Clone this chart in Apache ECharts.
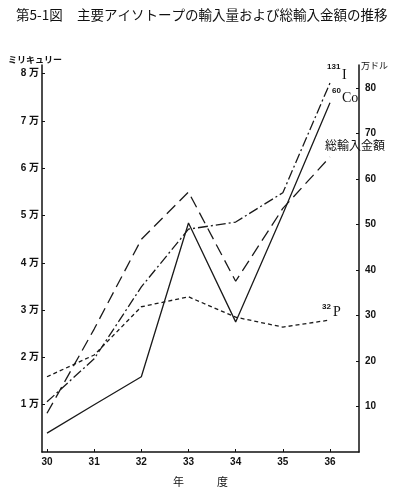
<!DOCTYPE html>
<html>
<head>
<meta charset="utf-8">
<script src="https://cdn.jsdelivr.net/npm/echarts@6/dist/echarts.min.js"></script>
<style>
  html, body { margin: 0; padding: 0; background: #fff; }
  #chart { width: 398px; height: 493px; }
</style>
</head>
<body>
<div id="chart"></div>
<script>
// 年度 (昭和)
const years = [30, 31, 32, 33, 34, 35, 36];
// 輸入量 (万ミリキュリー)
const iodine131 = [1.06, 1.97, 3.49, 4.71, 4.86, 5.48, 7.80];
const cobalt60 = [0.40, 1.00, 1.59, 4.84, 2.75, 5.03, 7.38];
const phosphorus32 = [1.59, 2.05, 3.07, 3.28, 2.85, 2.64, 2.79];
// 総輸入金額 (万ドル)
const totalImport = [8.5, 27, 46.7, 57.1, 37.5, 53.5, 64.8];

const leftTicks = [1, 2, 3, 4, 5, 6, 7, 8];
const rightTicks = [10, 20, 30, 40, 50, 60, 70, 80];

const numFont = '"Liberation Sans", "Noto Sans CJK JP", sans-serif';
const jpFont = '"Noto Sans CJK JP", sans-serif';
const serifFont = '"Liberation Serif", serif';

function pairs(values) {
    return years.map((y, i) => [y, values[i]]);
}

const chart = echarts.init(document.getElementById('chart'));

function lineSeries(name, values, dash, yAxisIndex) {
    return {
        name: name,
        type: 'line',
        yAxisIndex: yAxisIndex,
        data: pairs(values),
        symbol: 'none',
        lineStyle: {
            color: '#1a1a1a',
            width: 1.3,
            type: dash
        }
    };
}

const option = {
    animation: false,
    backgroundColor: '#fff',
    grid: {
        left: 42,
        right: 39,
        top: 65,
        bottom: 41
    },
    xAxis: {
        type: 'value',
        min: 29.894,
        max: 36.615,
        splitLine: { show: false },
        axisLine: { lineStyle: { color: '#111', width: 1.5 } },
        axisTick: {
            inside: true,
            length: 3,
            customValues: years,
            lineStyle: { color: '#111' }
        },
        axisLabel: {
            customValues: years,
            margin: 5,
            fontFamily: numFont,
            fontSize: 10,
            fontWeight: 'bold',
            color: '#111'
        },
        name: '年\u3000\u3000\u3000度',
        nameLocation: 'middle',
        nameGap: 24,
        nameTextStyle: {
            fontFamily: jpFont,
            fontSize: 11,
            color: '#111'
        }
    },
    yAxis: [
        {
            type: 'value',
            min: 0,
            max: 8.18,
            splitLine: { show: false },
            axisLine: { show: true, lineStyle: { color: '#111', width: 1.5 } },
            axisTick: {
                show: true,
                inside: true,
                length: 3,
                customValues: leftTicks,
                lineStyle: { color: '#111' }
            },
            axisLabel: {
                customValues: leftTicks,
                margin: 3,
                fontFamily: numFont,
                fontSize: 10,
                fontWeight: 'bold',
                color: '#111',
                formatter: v => v + ' 万'
            }
        },
        {
            type: 'value',
            position: 'right',
            min: 0,
            max: 85,
            splitLine: { show: false },
            axisLine: { show: true, lineStyle: { color: '#111', width: 1.5 } },
            axisTick: {
                show: true,
                inside: true,
                length: 3,
                customValues: rightTicks,
                lineStyle: { color: '#111' }
            },
            axisLabel: {
                customValues: rightTicks,
                margin: 6,
                fontFamily: numFont,
                fontSize: 10,
                fontWeight: 'bold',
                color: '#111'
            }
        }
    ],
    graphic: [
        // title
        { type: 'text', left: 16, top: 8, style: { text: '第5-1図', font: '13.5px ' + jpFont, fill: '#111' } },
        { type: 'text', left: 77, top: 8, style: { text: '主要アイソトープの輸入量および総輸入金額の推移', font: '13.5px ' + jpFont, fill: '#111' } },
        // axis names
        { type: 'text', left: 8, top: 55, style: { text: 'ミリキュリー', font: 'bold 9px ' + jpFont, fill: '#111' } },
        { type: 'text', left: 361, top: 61, style: { text: '万ドル', font: '9px ' + jpFont, fill: '#111' } },
        // series labels
        { type: 'text', left: 327, top: 63, style: { text: '131', font: 'bold 8px ' + numFont, fill: '#111' } },
        { type: 'text', left: 342, top: 68, style: { text: 'I', font: '14px ' + serifFont, fill: '#111' } },
        { type: 'text', left: 332, top: 87, style: { text: '60', font: 'bold 8px ' + numFont, fill: '#111' } },
        { type: 'text', left: 342, top: 91, style: { text: 'Co', font: '14px ' + serifFont, fill: '#111' } },
        { type: 'text', left: 325, top: 139, style: { text: '総輸入金額', font: '12px ' + jpFont, fill: '#111' } },
        { type: 'text', left: 322, top: 303, style: { text: '32', font: 'bold 8px ' + numFont, fill: '#111' } },
        { type: 'text', left: 333, top: 305, style: { text: 'P', font: '14px ' + serifFont, fill: '#111' } }
    ],
    series: [
        lineSeries('131I', iodine131, [10, 3, 2, 3], 0),
        lineSeries('60Co', cobalt60, 'solid', 0),
        lineSeries('32P', phosphorus32, [4, 3], 0),
        lineSeries('総輸入金額', totalImport, [12, 6], 1)
    ]
};

chart.setOption(option);
</script>
</body>
</html>
